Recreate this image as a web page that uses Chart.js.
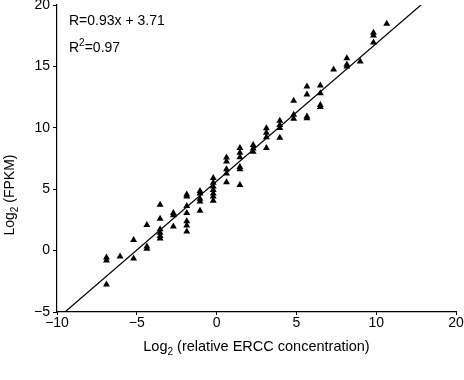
<!DOCTYPE html>
<html>
<head>
<meta charset="utf-8">
<script src="https://cdn.jsdelivr.net/npm/chart.js@4.4.1/dist/chart.umd.min.js"></script>
<style>
html,body{margin:0;padding:0;background:#fff;}
#wrap{width:464px;height:380px;position:relative;}
</style>
</head>
<body>
<div id="wrap"><canvas id="c" width="464" height="380"></canvas></div>
<script>
// log2 relative ERCC concentration (x) and log2 FPKM (y)
const xValues = [
  -6.9,-6.9,-6.9, -6.05, -5.2,-5.2, -4.37,-4.37,-4.37,
  -3.54,-3.54,-3.54,-3.54,-3.54,-3.54, -2.71,-2.71,-2.71,
  -1.87,-1.87,-1.87,-1.87,-1.87,-1.87,-1.87, -1.04,-1.04,-1.04,-1.04,-1.04,
  -0.21,-0.21,-0.21,-0.21,-0.21,-0.21,-0.21, 0.62,0.62,0.62,0.62,0.62,
  1.46,1.46,1.46,1.46,1.46,1.46, 2.29,2.29,2.29, 3.12,3.12,3.12,3.12,
  3.96,3.96,3.96,3.96, 4.83,4.83,4.83, 5.66,5.66,5.66,5.66, 6.5,6.5,6.5,6.5,
  7.33, 8.16,8.16,8.16, 9.0, 9.83,9.83,9.83, 10.66
];
const yValues = [
  -0.57,-0.81,-2.77, -0.49, 0.86,-0.64, 2.08,0.34,0.16,
  3.73,2.59,1.73,1.45,1.18,0.98, 3.06,2.87,1.97,
  4.56,4.40,3.63,3.06,2.40,2.04,1.55, 4.85,4.65,4.22,3.99,3.24,
  5.91,5.53,5.22,4.93,4.65,4.40,4.05, 7.58,7.25,6.62,6.28,5.56,
  8.35,7.97,7.60,6.81,6.62,5.34, 8.60,8.31,8.05, 9.96,9.60,9.23,8.35,
  10.58,10.23,9.98,9.19, 12.21,11.07,10.73, 13.37,12.71,10.92,10.77, 13.45,12.81,11.86,11.70,
  14.74, 15.66,15.16,15.00, 15.39, 17.75,17.52,16.94, 18.48
];
// fitted line as drawn (end points)
const lineX = [-9.5, 12.8];
const lineY = [-5, 20];
const xTickValues = [-10, -5, 0, 5, 10, 15];
const xTickLabels = ['\u221210', '\u22125', '0', '5', '10', '20'];
const yTickValues = [-5, 0, 5, 10, 15, 20];
const yTickLabels = ['\u22125', '0', '5', '10', '15', '20'];
const fitText = 'R=0.93x + 3.71';
const r2Text = '0.97';

const FONT = '"Liberation Sans", Arial, Helvetica, sans-serif';

const points = xValues.map((x, i) => ({x: x, y: yValues[i]}));
const linePts = lineX.map((x, i) => ({x: x, y: lineY[i]}));

const textPlugin = {
  id: 'texts',
  afterDraw(chart) {
    const ctx = chart.ctx;
    const area = chart.chartArea;
    ctx.save();
    ctx.fillStyle = '#000';
    ctx.textBaseline = 'alphabetic';
    ctx.font = '14px ' + FONT;
    ctx.textAlign = 'left';
    ctx.fillText(fitText, 69, 25);
    let x = 69;
    ctx.fillText('R', x, 52);
    x += ctx.measureText('R').width;
    ctx.font = '10px ' + FONT;
    ctx.fillText('2', x, 46);
    x += ctx.measureText('2').width;
    ctx.font = '14px ' + FONT;
    ctx.fillText('=' + r2Text, x, 52);
    const drawSubTitle = (pre, sub, post, cx, cy, fs) => {
      const ss = Math.round(fs * 0.72);
      ctx.font = fs + 'px ' + FONT;
      const w1 = ctx.measureText(pre).width;
      const w3 = ctx.measureText(post).width;
      ctx.font = ss + 'px ' + FONT;
      const w2 = ctx.measureText(sub).width;
      let sx = cx - (w1 + w2 + w3) / 2;
      ctx.font = fs + 'px ' + FONT;
      ctx.fillText(pre, sx, cy);
      sx += w1;
      ctx.font = ss + 'px ' + FONT;
      ctx.fillText(sub, sx, cy + 4);
      sx += w2;
      ctx.font = fs + 'px ' + FONT;
      ctx.fillText(post, sx, cy);
    };
    drawSubTitle('Log', '2', ' (relative ERCC concentration)', (area.left + area.right) / 2, 351, 14.5);
    ctx.save();
    ctx.translate(14, 195);
    ctx.rotate(-Math.PI / 2);
    drawSubTitle('Log', '2', ' (FPKM)', 0, 0, 14);
    ctx.restore();
    ctx.restore();
  }
};

new Chart(document.getElementById('c'), {
  type: 'scatter',
  data: {
    datasets: [
      {
        data: points,
        pointStyle: 'triangle',
        radius: 4,
        backgroundColor: '#000',
        borderColor: '#000',
        borderWidth: 0
      },
      {
        type: 'line',
        data: linePts,
        borderColor: '#000',
        borderWidth: 1.2,
        pointRadius: 0,
        fill: false,
        tension: 0
      }
    ]
  },
  options: {
    responsive: false,
    animation: false,
    events: [],
    layout: { padding: { left: 0, right: 8, top: 5, bottom: 48 } },
    plugins: { legend: { display: false }, tooltip: { enabled: false } },
    scales: {
      x: {
        type: 'linear',
        min: -10, max: 15,
        afterBuildTicks(s) { s.ticks = xTickValues.map(v => ({value: v})); },
        afterFit(s) { s.height = 20; s.paddingLeft = 0; s.paddingRight = 0; },
        ticks: {
          color: '#000',
          font: { family: FONT, size: 14 },
          padding: 0,
          maxRotation: 0,
          callback: (v) => { const i = xTickValues.indexOf(v); return i >= 0 ? xTickLabels[i] : ''; }
        },
        grid: { drawOnChartArea: false, drawTicks: true, tickLength: 3, color: '#000', lineWidth: 1 },
        border: { display: true, color: '#000', width: 1.2 }
      },
      y: {
        type: 'linear',
        min: -5, max: 20,
        afterBuildTicks(s) { s.ticks = yTickValues.map(v => ({value: v})); },
        afterFit(s) { s.width = 57; s.paddingTop = 0; s.paddingBottom = 0; },
        ticks: {
          color: '#000',
          font: { family: FONT, size: 14 },
          padding: 3,
          callback: (v) => { const i = yTickValues.indexOf(v); return i >= 0 ? yTickLabels[i] : ''; }
        },
        grid: { drawOnChartArea: false, drawTicks: true, tickLength: 4, color: '#000', lineWidth: 1 },
        border: { display: true, color: '#000', width: 1.2 }
      }
    }
  },
  plugins: [textPlugin]
});
</script>
</body>
</html>
